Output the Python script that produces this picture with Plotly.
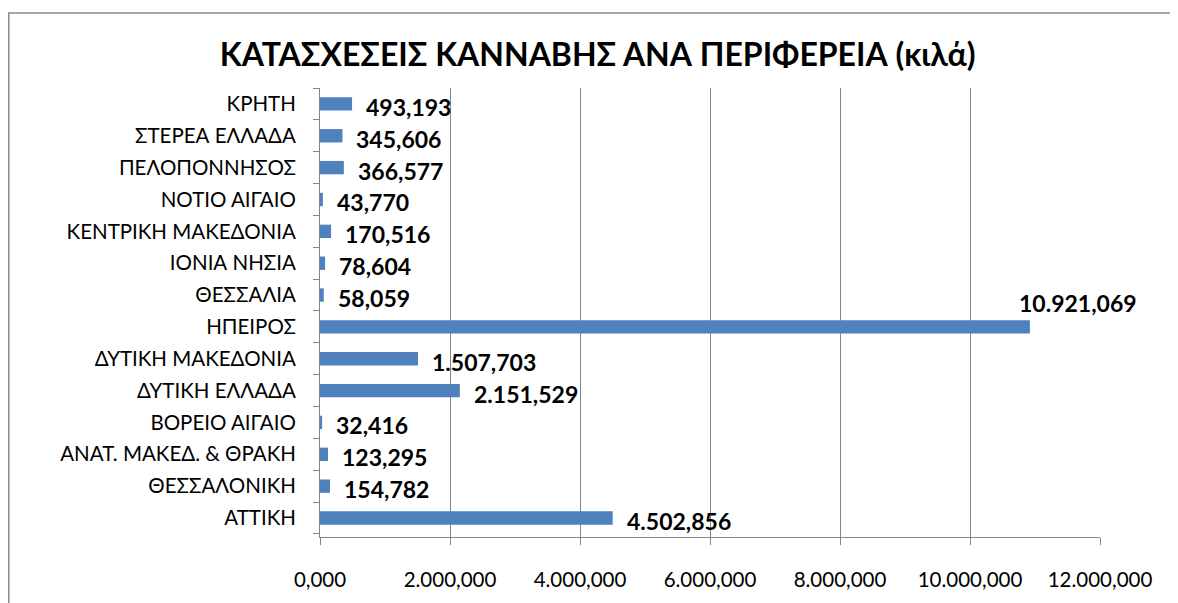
import plotly.graph_objects as go

regions = ["ΑΤΤΙΚΗ", "ΘΕΣΣΑΛΟΝΙΚΗ", "ΑΝΑΤ. ΜΑΚΕΔ. & ΘΡΑΚΗ", "ΒΟΡΕΙΟ ΑΙΓΑΙΟ", "ΔΥΤΙΚΗ ΕΛΛΑΔΑ",
           "ΔΥΤΙΚΗ ΜΑΚΕΔΟΝΙΑ", "ΗΠΕΙΡΟΣ", "ΘΕΣΣΑΛΙΑ", "ΙΟΝΙΑ ΝΗΣΙΑ", "ΚΕΝΤΡΙΚΗ ΜΑΚΕΔΟΝΙΑ",
           "ΝΟΤΙΟ ΑΙΓΑΙΟ", "ΠΕΛΟΠΟΝΝΗΣΟΣ", "ΣΤΕΡΕΑ ΕΛΛΑΔΑ", "ΚΡΗΤΗ"]
kilos = [4502.856, 154.782, 123.295, 32.416, 2151.529,
         1507.703, 10921.069, 58.059, 78.604, 170.516,
         43.770, 366.577, 345.606, 493.193]
x_ticks = [0, 2000, 4000, 6000, 8000, 10000, 12000]

def fmt(v):
    s = f"{v:,.3f}"
    return s.replace(",", "X").replace(".", ",").replace("X", ".")

FONT = "Lato, 'Open Sans', sans-serif"
BLUE = "#4F81BD"
GRID = "#868686"

W, H = 1170, 595
ML, MR, MT, MB = 312, 78, 80, 66
PW, PH = W - ML - MR, H - MT - MB

fig = go.Figure(go.Bar(
    x=kilos, y=regions, orientation="h",
    marker=dict(color=BLUE, line=dict(width=0)),
    width=0.42,
))

annotations = []
for r, v in zip(regions, kilos):
    if v == max(kilos):
        annotations.append(dict(x=v, y=r, xref="x", yref="y", text="<b>" + fmt(v) + "</b>",
                                showarrow=False, xanchor="left", yanchor="middle",
                                xshift=-13, yshift=24,
                                font=dict(family=FONT, size=23, color="black")))
    else:
        annotations.append(dict(x=v, y=r, xref="x", yref="y", text="<b>" + fmt(v) + "</b>",
                                showarrow=False, xanchor="left", yanchor="middle",
                                xshift=12, yshift=-3,
                                font=dict(family=FONT, size=23, color="black")))

fig.update_layout(
    width=W, height=H,
    margin=dict(l=ML, r=MR, t=MT, b=MB, autoexpand=False),
    paper_bgcolor="white", plot_bgcolor="white",
    showlegend=False,
    separators=",.",
    title=dict(text="<b>ΚΑΤΑΣΧΕΣΕΙΣ ΚΑΝΝΑΒΗΣ ΑΝΑ ΠΕΡΙΦΕΡΕΙΑ (κιλά)</b>",
               x=0.504, xanchor="center", y=0.921, yanchor="middle",
               font=dict(family=FONT, size=32, color="black")),
    xaxis=dict(range=[0, 12000], tickvals=x_ticks, ticktext=[fmt(t) for t in x_ticks],
               showgrid=True, gridcolor=GRID, gridwidth=1,
               showline=True, linecolor=GRID, linewidth=1,
               ticks="outside", ticklen=7, tickcolor=GRID,
               tickfont=dict(family=FONT, size=20.5, color="black"),
               ticklabelstandoff=17, zeroline=False, fixedrange=True, automargin=False),
    yaxis=dict(categoryorder="array", categoryarray=regions,
               showline=True, linecolor=GRID, linewidth=1,
               ticks="outside", ticklen=6, tickcolor=GRID, tickson="boundaries",
               tickfont=dict(family=FONT, size=20.5, color="black"),
               ticklabelstandoff=19, showgrid=False, fixedrange=True, automargin=False),
    annotations=annotations,
    shapes=[dict(type="rect", xref="paper", yref="paper",
                 x0=(0.8 - ML) / PW, x1=(W + 20 - ML) / PW,
                 y0=-(H + 20 - (H - MB)) / PH, y1=1 + (MT - 5) / PH,
                 line=dict(color="#8c8c8c", width=1.5), layer="below")],
)

fig.write_html("out.html")
